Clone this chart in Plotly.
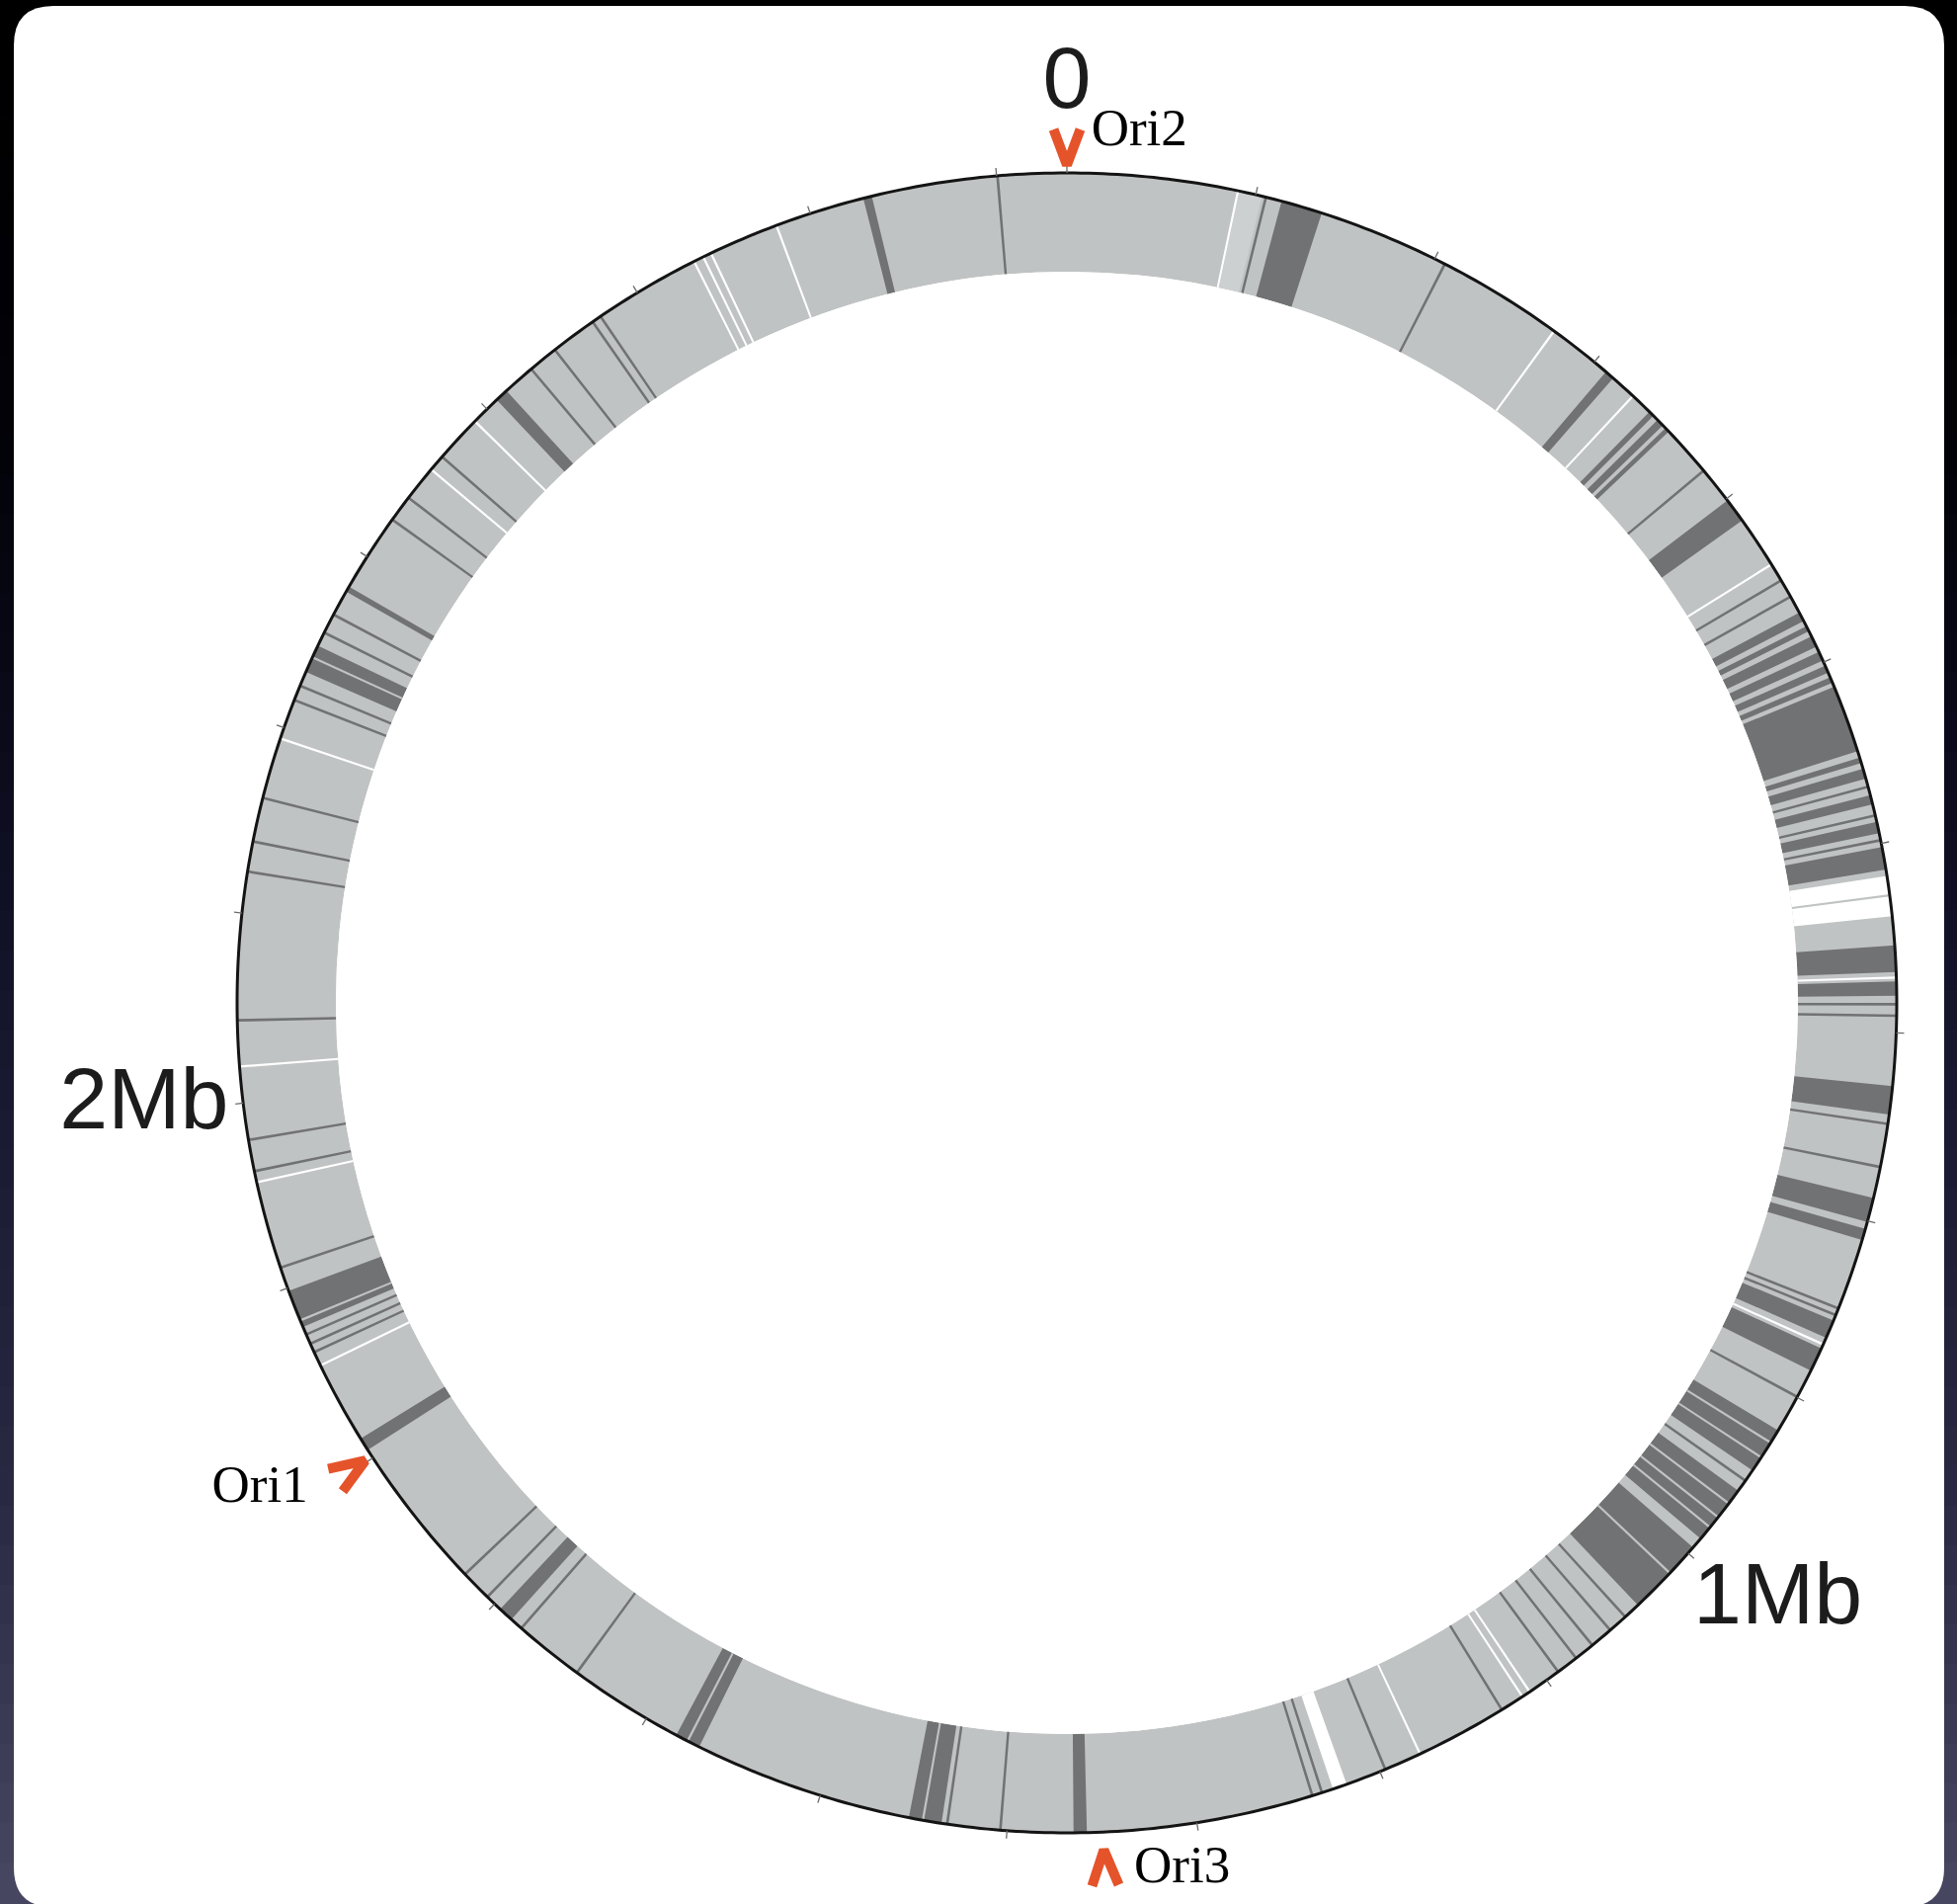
import math
import plotly.graph_objects as go

# ---------------- data (genome positions in kb) ----------------
GENOME_KB = 2737
TICK_STEP_KB = 100

# dark gray blocks (start_kb, end_kb)
dark_bands_kb = [
    (114, 136), (308, 313), (339, 342), (345, 349), (351, 353.5), (401, 414),
    (471, 476), (479, 482), (485, 491), (494, 499), (502, 506), (508.6, 511.7),
    (514, 550), (553.5, 556.5), (559.6, 565), (574, 579), (588.5, 594.5), (602, 614),
    (654, 668), (673, 680.5), (728, 743), (787.6, 800.6), (804.4, 810.5),
    (855.3, 865.2), (871.3, 884.2), (920, 945), (958, 990), (996, 1038),
    (1358, 1365), (1434.6, 1452), (1568.5, 1582), (1688, 1696), (1805, 1812),
    (1878, 1898.4), (2231.4, 2246.6), (2278.6, 2281.6), (2407, 2414), (2629, 2633.6),
]
# thin dark lines (position kb)
dark_lines_kb = [
    105.5, 206, 381, 451.6, 461.5, 569.5, 585, 598.3, 685, 691, 748, 771, 848.5,
    852.2, 899.7, 951.5, 1047, 1057.5, 1069.8, 1080.7, 1092.5, 1128.2, 1197,
    1232.4, 1237.7, 1403.5, 1431.6, 1643.7, 1681, 1705.3, 1722, 1863.5, 1868.4,
    1873.7, 1911.3, 1963.8, 1980.5, 2043.6, 2122, 2138, 2161.5, 2215.5, 2223.5,
    2254.2, 2264.8, 2323.5, 2337.8, 2365.6, 2431.3, 2447.3, 2472, 2477, 2700.5,
]
# white gaps
white_bands_kb = [(617.3, 638.6), (1218.7, 1226.3)]
white_lines_kb = [
    90.5, 273.3, 327, 441.8, 671, 869, 1110.8, 1115.4, 1177, 1855.8, 1957.8,
    2019.3, 2194, 2356.8, 2391, 2534, 2539.4, 2543.9, 2581.2,
]
# light gray lines inside dark / white blocks
light_lines_kb = [627.6, 927.5, 936.7, 966.3, 975.4, 982.2, 1014.2, 1444.5,
                  1575.3, 1881.7, 2239.8]
# paler gray block
pale_bands_kb = [(91.2, 103.4)]

# replication origins
ori_names = ["Ori1", "Ori2", "Ori3"]
ori_kb = [1801, 0, 1349.5]

# scale labels
scale_labels = ["0", "1Mb", "2Mb"]
scale_label_kb = [0, 1000, 2000]

# ---------------- styles ----------------
W, H = 1981, 1927
CX, CY = 1080, 1015          # centre of the map (px)
R_IN, R_OUT, R_DOM = 740, 840, 901   # px radii: ring inner / outer, polar domain
PX_UNIT = R_OUT - R_IN       # radial data unit = ring thickness
RMAX = (R_DOM - R_IN) / PX_UNIT
LIGHT = "#C0C3C3"
PALE = "#CDD0D0"
DARK = "#717273"
ORANGE = "#E5532B"
LINE_KB = 1.4

def deg(kb):
    return kb / GENOME_KB * 360.0

def r_of_px(px):  # distance from centre (px) -> radial data value
    return (px - R_IN) / PX_UNIT

fig = go.Figure()

def add_blocks(pairs, color):
    fig.add_trace(go.Barpolar(
        theta=[deg((s + e) / 2) for s, e in pairs],
        width=[deg(e - s) for s, e in pairs],
        r=[1] * len(pairs), base=[0] * len(pairs),
        marker=dict(color=color, line=dict(width=0)),
        hoverinfo="skip", showlegend=False))

def add_lines(pos, color, w=LINE_KB):
    add_blocks([(p - w / 2, p + w / 2) for p in pos], color)

add_blocks([(0, GENOME_KB)], LIGHT)
add_blocks(pale_bands_kb, PALE)
add_blocks(dark_bands_kb, DARK)
add_lines(dark_lines_kb, DARK)
add_blocks(white_bands_kb, "#FFFFFF")
add_lines(white_lines_kb, "#FFFFFF", 1.2)
add_lines(light_lines_kb, LIGHT, 1.2)

# outer circle of the map
circ_kb = [GENOME_KB * i / 720 for i in range(721)]
fig.add_trace(go.Scatterpolar(
    r=[1.0] * len(circ_kb), theta=[deg(k) for k in circ_kb], mode="lines",
    line=dict(color="#141414", width=3), hoverinfo="skip", showlegend=False))

# 100 kb ticks
tick_r, tick_t = [], []
for k in range(0, GENOME_KB, TICK_STEP_KB):
    tick_r += [1.0, r_of_px(R_OUT + 8), None]
    tick_t += [deg(k), deg(k), None]
fig.add_trace(go.Scatterpolar(
    r=tick_r, theta=tick_t, mode="lines", connectgaps=False,
    line=dict(color="#6a6a6a", width=1.3), hoverinfo="skip", showlegend=False))

# ---------------- origin chevrons ----------------
ori_gap = {"Ori1": 8, "Ori2": 8, "Ori3": 18}
CH_H, CH_W = 36, 27
for name, kb in zip(ori_names, ori_kb):
    t0 = deg(kb)
    rt = R_OUT + ori_gap[name]
    ra = rt + CH_H
    dt = math.degrees(math.atan2(CH_W / 2, ra))
    rr = math.hypot(ra, CH_W / 2)
    fig.add_trace(go.Scatterpolar(
        r=[r_of_px(rr), r_of_px(rt), r_of_px(rr)],
        theta=[t0 - dt, t0, t0 + dt],
        mode="lines", line=dict(color=ORANGE, width=10),
        cliponaxis=False, hoverinfo="skip", showlegend=False))

# origin labels: (angle offset deg, distance px, text position)
ori_label_pos = {"Ori1": (1.94, 898, "bottom left"),
                 "Ori2": (1.6, 882, "middle right"),
                 "Ori3": (-1.94, 879, "middle right")}
for n, k in zip(ori_names, ori_kb):
    dt, dpx, tp = ori_label_pos[n]
    fig.add_trace(go.Scatterpolar(
        r=[r_of_px(dpx)], theta=[deg(k) + dt], text=[n], mode="text",
        textposition=tp,
        textfont=dict(family="Liberation Serif, Times New Roman, serif", size=53,
                      color="#000000"),
        cliponaxis=False, hoverinfo="skip", showlegend=False))

# scale labels
scale_label_pos = {"0": (0.0, 884, "top center"),
                   "1Mb": (0.0, 847, "bottom right"),
                   "2Mb": (-0.1, 855, "middle left")}
for s, k in zip(scale_labels, scale_label_kb):
    dt, dpx, tp = scale_label_pos[s]
    fig.add_trace(go.Scatterpolar(
        r=[r_of_px(dpx)], theta=[deg(k) + dt], text=[s], mode="text",
        textposition=tp,
        textfont=dict(family="Liberation Sans, Arial, sans-serif", size=88,
                      color="#1c1c1c"),
        cliponaxis=False, hoverinfo="skip", showlegend=False))

# ---------------- layout ----------------
shapes = []
stops = [(0, (0, 0, 0)), (450, (2, 2, 8)), (800, (12, 12, 30)), (1100, (24, 24, 48)),
         (1500, (40, 40, 66)), (1927, (72, 72, 98))]
def grad(y):
    for (y0, c0), (y1, c1) in zip(stops[:-1], stops[1:]):
        if y0 <= y <= y1:
            f = (y - y0) / (y1 - y0)
            return tuple(int(round(a + (b - a) * f)) for a, b in zip(c0, c1))
    return stops[-1][1]
N = 48
for i in range(N):
    ya, yb = i * H / N, (i + 1) * H / N
    c = grad((ya + yb) / 2)
    shapes.append(dict(type="rect", xref="paper", yref="paper", x0=0, x1=1,
                       y0=1 - yb / H, y1=1 - ya / H + 0.001, line=dict(width=0),
                       fillcolor="rgb(%d,%d,%d)" % c, layer="below"))
px0, py0, px1, py1, rad = 14, 6, 1968, 1930, 40
def P(x, y):
    return "%.5f,%.5f" % (x / W, 1 - y / H)
path = ("M " + P(px0 + rad, py0) + " L " + P(px1 - rad, py0) +
        " Q " + P(px1, py0) + " " + P(px1, py0 + rad) +
        " L " + P(px1, py1 - rad) + " Q " + P(px1, py1) + " " + P(px1 - rad, py1) +
        " L " + P(px0 + rad, py1) + " Q " + P(px0, py1) + " " + P(px0, py1 - rad) +
        " L " + P(px0, py0 + rad) + " Q " + P(px0, py0) + " " + P(px0 + rad, py0) + " Z")
shapes.append(dict(type="path", xref="paper", yref="paper", path=path,
                   fillcolor="#FFFFFF", line=dict(width=0), layer="below"))

fig.update_layout(
    width=W, height=H, margin=dict(l=0, r=0, t=0, b=0),
    paper_bgcolor="#000000", plot_bgcolor="rgba(0,0,0,0)",
    template="none", showlegend=False, shapes=shapes,
    polar=dict(
        domain=dict(x=[(CX - R_DOM) / W, min(1.0, (CX + R_DOM) / W)],
                    y=[(H - CY - R_DOM) / H, (H - CY + R_DOM) / H]),
        hole=R_IN / R_DOM, bgcolor="rgba(0,0,0,0)", barmode="overlay", bargap=0,
        radialaxis=dict(visible=False, range=[0, RMAX]),
        angularaxis=dict(rotation=90, direction="clockwise", thetaunit="degrees",
                         showgrid=False, showline=False, ticks="",
                         showticklabels=False),
    ),
)

fig.write_html("out.html", config={"displayModeBar": False},
               post_script="document.body.style.margin='0';document.body.style.overflow='hidden';")
